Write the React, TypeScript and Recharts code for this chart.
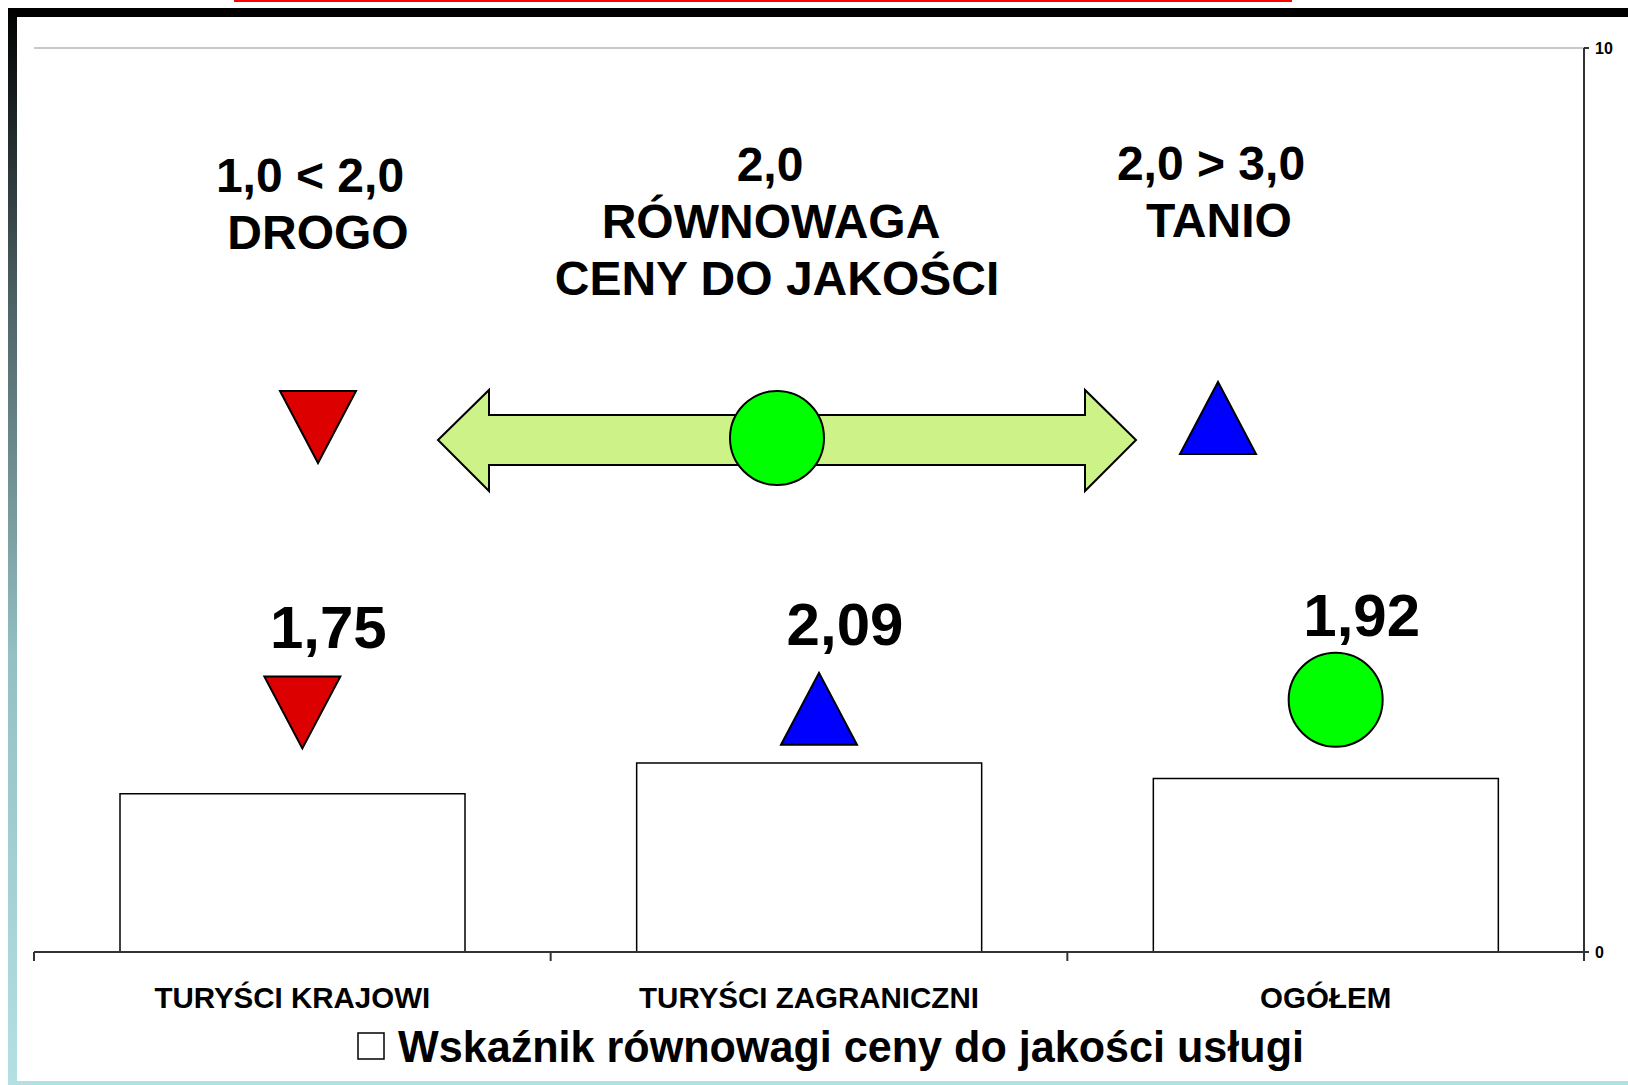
import { ComposedChart, Bar, Scatter, XAxis, YAxis, CartesianGrid } from 'recharts'

const categories = ['TURYŚCI KRAJOWI', 'TURYŚCI ZAGRANICZNI', 'OGÓŁEM']
const values = [1.75, 2.09, 1.92]
const valueLabels = ['1,75', '2,09', '1,92']
// symbol shown above each bar and the height (in axis units) it sits at
const markerKinds = ['drogo', 'tanio', 'rownowaga']
const markerLevels = [2.65, 2.69, 2.79]
const yTicks = [0, 10]
const legendLabel = 'Wskaźnik równowagi ceny do jakości usługi'

const keyDrogo = ['1,0 < 2,0', 'DROGO']
const keyRownowaga = ['2,0', 'RÓWNOWAGA', 'CENY DO JAKOŚCI']
const keyTanio = ['2,0 > 3,0', 'TANIO']

const data = categories.map((name, i) => ({
    name,
    value: values[i],
    label: valueLabels[i],
    kind: markerKinds[i],
    marker: markerLevels[i],
}))

const FONT = '"Liberation Sans", Arial, Helvetica, sans-serif'
const RED = '#dd0000'
const BLUE = '#0000ff'
const GREEN = '#00ff00'
const ARROW = '#ccf288'
const AXIS = '#333333'

const Marker = ({ kind, cx, cy }: { kind: string; cx: number; cy: number }) => {
    if (kind === 'drogo') {
        return <polygon points={`${cx - 38},${cy - 36} ${cx + 38},${cy - 36} ${cx},${cy + 36}`} fill={RED} stroke="#000" strokeWidth={2} />
    }
    if (kind === 'tanio') {
        return <polygon points={`${cx - 38},${cy + 36} ${cx + 38},${cy + 36} ${cx},${cy - 36}`} fill={BLUE} stroke="#000" strokeWidth={2} />
    }
    return <circle cx={cx} cy={cy} r={47} fill={GREEN} stroke="#000" strokeWidth={2} />
}

const MarkerShape = (props: any) => {
    const { cx, cy, payload } = props
    const x = cx + 10
    return (
        <g>
            <Marker kind={payload.kind} cx={x} cy={cy} />
            <text x={x + 26} y={cy - 64} textAnchor="middle" fontSize={60} fontWeight="bold" fontFamily={FONT} fill="#000">
                {payload.label}
            </text>
        </g>
    )
}

const CategoryTick = (props: any) => {
    const { x, y, payload, index } = props
    const half = payload?.offset || (1584 - 34) / categories.length / 2
    const axisY = y - 8
    return (
        <g>
            <line x1={x - half} x2={x - half} y1={axisY} y2={axisY + 9} stroke={AXIS} strokeWidth={2} />
            {index === categories.length - 1 && (
                <line x1={x + half} x2={x + half} y1={axisY} y2={axisY + 9} stroke={AXIS} strokeWidth={2} />
            )}
            <text x={x} y={axisY + 56} textAnchor="middle" fontSize={29.5} fontWeight="bold" fontFamily={FONT} fill="#000">
                {payload.value}
            </text>
        </g>
    )
}

const KeyText = ({ lines, xs, y }: { lines: string[]; xs: number[]; y: number }) => (
    <text textAnchor="middle" fontSize={48} fontWeight="bold" fontFamily={FONT} fill="#000">
        {lines.map((l, i) => (
            <tspan key={i} x={xs[i]} y={y + i * 57}>{l}</tspan>
        ))}
    </text>
)

export default function App() {
    return (
        <div style={{ position: 'absolute', left: 0, top: 0, width: 1628, height: 1085, background: '#fff', overflow: 'hidden' }}>
            <ComposedChart
                width={1628}
                height={1085}
                data={data}
                margin={{ top: 48, right: 0, bottom: 73, left: 34 }}
            >
                <CartesianGrid vertical={false} stroke="#c8c8c8" strokeWidth={2} />
                <XAxis
                    dataKey="name"
                    interval={0}
                    height={60}
                    tickSize={8}
                    tickMargin={0}
                    tickLine={false}
                    axisLine={{ stroke: AXIS, strokeWidth: 2 }}
                    tick={<CategoryTick />}
                />
                <YAxis
                    orientation="right"
                    width={44}
                    domain={[0, 10]}
                    ticks={yTicks}
                    tickSize={5}
                    tickMargin={6}
                    axisLine={{ stroke: AXIS, strokeWidth: 2 }}
                    tickLine={{ stroke: AXIS, strokeWidth: 2 }}
                    tick={{ fill: '#000', fontSize: 16, fontWeight: 'bold', fontFamily: FONT }}
                />
                <Bar dataKey="value" barSize={345} fill="#ffffff" stroke="#000" strokeWidth={1.5} isAnimationActive={false} />
                <Scatter dataKey="marker" shape={<MarkerShape />} isAnimationActive={false} />
            </ComposedChart>

            <svg width={1628} height={1085} style={{ position: 'absolute', left: 0, top: 0, pointerEvents: 'none' }}>
                <defs>
                    <linearGradient id="frameLeft" x1="0" y1="0" x2="0" y2="1">
                        <stop offset="0%" stopColor="#000000" />
                        <stop offset="28%" stopColor="#4f6468" />
                        <stop offset="60%" stopColor="#93c0c2" />
                        <stop offset="100%" stopColor="#b3e0e2" />
                    </linearGradient>
                </defs>
                {/* slide frame */}
                <rect x={234} y={0} width={1058} height={2} fill="#ff0000" />
                <rect x={8} y={8} width={1620} height={9} fill="#000" />
                <rect x={8} y={8} width={9} height={1077} fill="url(#frameLeft)" />
                <rect x={8} y={1081} width={1620} height={4} fill="#b3e0e2" />

                {/* key */}
                <KeyText lines={keyDrogo} xs={[310, 318]} y={192} />
                <KeyText lines={keyRownowaga} xs={[770, 771, 777]} y={181} />
                <KeyText lines={keyTanio} xs={[1211, 1219]} y={180} />

                <polygon points="280,391 356,391 318,463" fill={RED} stroke="#000" strokeWidth={2} />
                <polygon
                    points="438,440 489,390 489,415 1085,415 1085,390 1136,440 1085,491 1085,465 489,465 489,491"
                    fill={ARROW}
                    stroke="#000"
                    strokeWidth={2}
                    strokeLinejoin="miter"
                />
                <circle cx={777} cy={438} r={47} fill={GREEN} stroke="#000" strokeWidth={2} />
                <polygon points="1180,454 1256,454 1218,382" fill={BLUE} stroke="#000" strokeWidth={2} />

                {/* legend */}
                <rect x={358} y={1033} width={26} height={26} fill="#fff" stroke="#000" strokeWidth={1.5} />
                <text x={398} y={1062} fontSize={45} fontWeight="bold" fontFamily={FONT} fill="#000" textLength={906} lengthAdjust="spacingAndGlyphs">
                    {legendLabel}
                </text>
            </svg>
        </div>
    )
}
